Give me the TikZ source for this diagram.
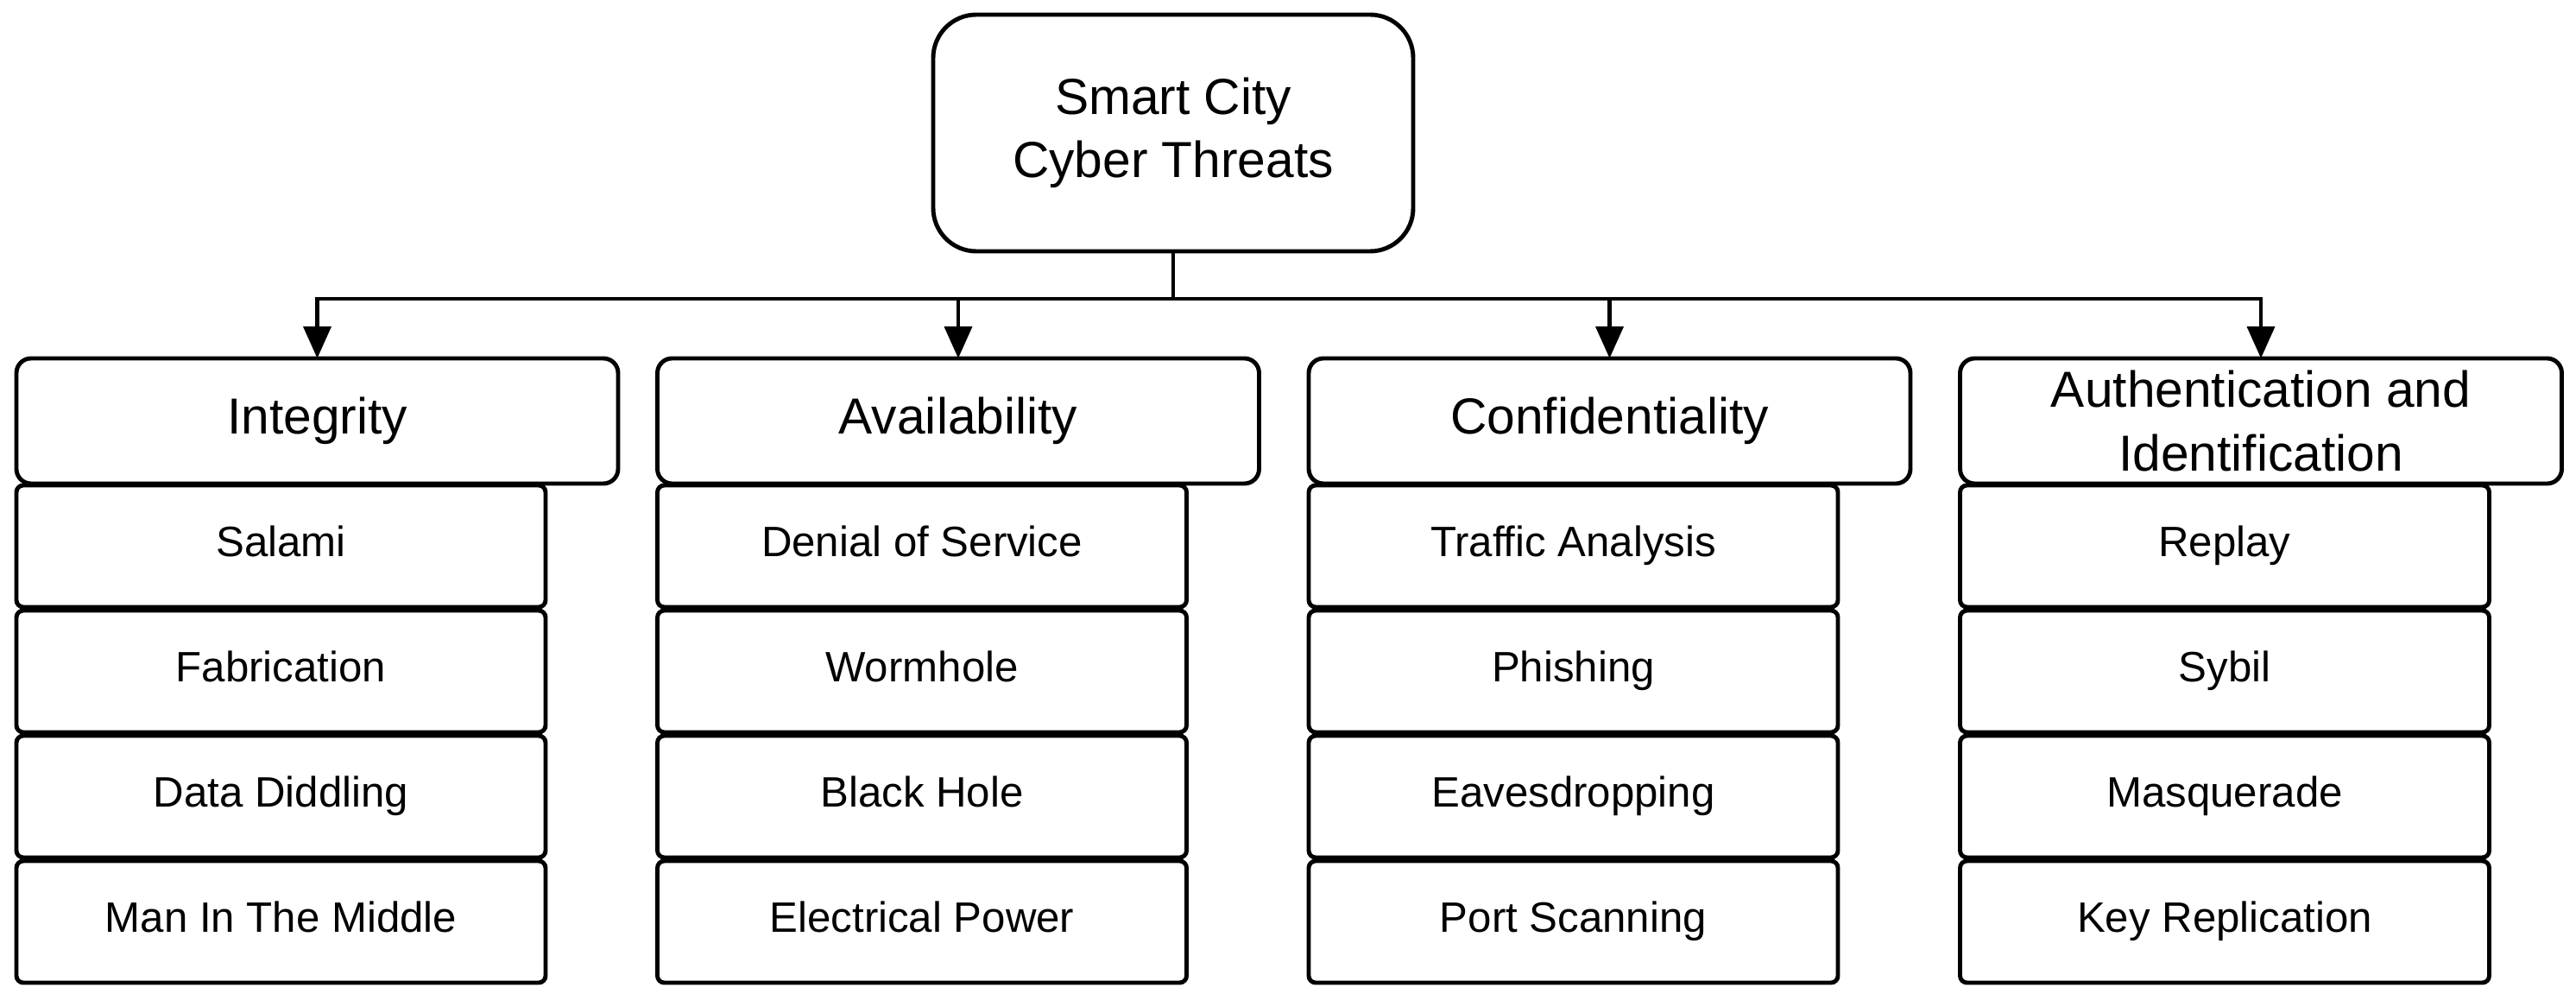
\documentclass[tikz,border=0pt]{standalone}
\usepackage{fontspec}
\setmainfont{Liberation Sans}
\usetikzlibrary{positioning,arrows.meta}
\begin{document}
\begin{tikzpicture}[-{Triangle[length=10.5pt,width=9pt]},line width=1.4pt]
  \tikzstyle{root}=[draw,outer sep=0pt,rounded corners=0.5cm,minimum width=5.56cm,minimum height=2.74cm,align=center,font=\fontsize{16.7}{20.8}\selectfont]
  \tikzstyle{category}=[draw,outer sep=0pt,rounded corners=0.17cm,minimum width=6.97cm,minimum height=1.45cm,inner sep=0pt,align=center,font=\fontsize{16.7}{20.8}\selectfont]
  \tikzstyle{threat}=[draw,outer sep=0pt,rounded corners=0.08cm,minimum width=6.13cm,minimum height=1.41cm,inner sep=0pt,text height=1.0em,text depth=0.3em,font=\fontsize{14}{17}\selectfont]
  \useasboundingbox (0,0) rectangle (29.84,11.57);
  \node[root] (Root) at (13.59,10.03) {Smart City\\Cyber Threats};
  \node[category] (Cat_1) at (3.675,6.695)  {Integrity};
  \node[category] (Cat_2) at (11.10,6.695)  {Availability};
  \node[category] (Cat_3) at (18.645,6.695) {Confidentiality};
  \node[category] (Cat_4) at (26.19,6.695)  {Authentication and\\Identification};
  % Integrity
  \node[threat,below=0.02cm of Cat_1.south west,anchor=north west] (Th_1_1) {Salami};
  \node[threat,below=0.04cm of Th_1_1] (Th_1_2) {Fabrication};
  \node[threat,below=0.04cm of Th_1_2] (Th_1_3) {Data Diddling};
  \node[threat,below=0.04cm of Th_1_3] (Th_1_4) {Man In The Middle};
  % Availability
  \node[threat,below=0.02cm of Cat_2.south west,anchor=north west] (Th_2_1) {Denial of Service};
  \node[threat,below=0.04cm of Th_2_1] (Th_2_2) {Wormhole};
  \node[threat,below=0.04cm of Th_2_2] (Th_2_3) {Black Hole};
  \node[threat,below=0.04cm of Th_2_3] (Th_2_4) {Electrical Power};
  % Confidentiality
  \node[threat,below=0.02cm of Cat_3.south west,anchor=north west] (Th_3_1) {Traffic Analysis};
  \node[threat,below=0.04cm of Th_3_1] (Th_3_2) {Phishing};
  \node[threat,below=0.04cm of Th_3_2] (Th_3_3) {Eavesdropping};
  \node[threat,below=0.04cm of Th_3_3] (Th_3_4) {Port Scanning};
  % Authentication and Identification
  \node[threat,below=0.02cm of Cat_4.south west,anchor=north west] (Th_4_1) {Replay};
  \node[threat,below=0.04cm of Th_4_1] (Th_4_2) {Sybil};
  \node[threat,below=0.04cm of Th_4_2] (Th_4_3) {Masquerade};
  \node[threat,below=0.04cm of Th_4_3] (Th_4_4) {Key Replication};
  \draw (Root.south) -- ++(0,-0.55) -| (Cat_1.north);
  \draw (Root.south) -- ++(0,-0.55) -| (Cat_2.north);
  \draw (Root.south) -- ++(0,-0.55) -| (Cat_3.north);
  \draw (Root.south) -- ++(0,-0.55) -| (Cat_4.north);
\end{tikzpicture}
\end{document}
